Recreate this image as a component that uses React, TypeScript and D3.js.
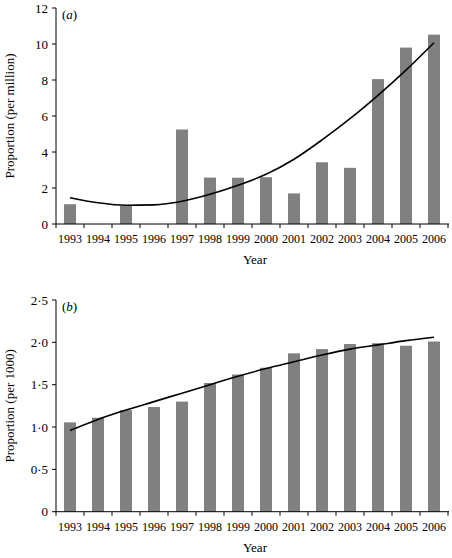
import React from "react";
import * as d3 from "d3";

const years = ["1993","1994","1995","1996","1997","1998","1999","2000","2001","2002","2003","2004","2005","2006"];
const valuesA = [1.1, 0, 1.0, 0, 5.25, 2.58, 2.57, 2.6, 1.7, 3.43, 3.12, 8.05, 9.8, 10.52];
const trendA = [1.46, 1.18, 1.04, 1.06, 1.26, 1.65, 2.15, 2.76, 3.6, 4.67, 5.85, 7.15, 8.55, 10.07];
const valuesB = [1.055, 1.11, 1.2, 1.236, 1.3, 1.52, 1.62, 1.7, 1.87, 1.92, 1.98, 1.99, 1.96, 2.01];
const trendB = [0.96, 1.09, 1.2, 1.3, 1.4, 1.5, 1.6, 1.69, 1.77, 1.85, 1.92, 1.97, 2.02, 2.06];
const ticksA = [0, 2, 4, 6, 8, 10, 12];
const ticksB = [0, 0.5, 1.0, 1.5, 2.0, 2.5];

const FONT = "'Liberation Serif', 'Times New Roman', Times, serif";

type PanelProps = {
  top: number;
  bottom: number;
  yMax: number;
  ticks: number[];
  fmt: (v: number) => string;
  values: number[];
  trend: number[];
  label: string;
  yTitle: string;
};

function Panel({ top, bottom, yMax, ticks, fmt, values, trend, label, yTitle }: PanelProps) {
  const left = 56;
  const right = 448;
  const x = d3.scaleBand<string>().domain(years).range([left, right]).paddingInner(0.57).paddingOuter(0.285);
  const step = x.step();
  const y = d3.scaleLinear().domain([0, yMax]).range([bottom, top]);
  const line = d3
    .line<number>()
    .x((_, i) => (x(years[i]) as number) + x.bandwidth() / 2)
    .y((d) => y(d))
    .curve(d3.curveMonotoneX);
  const boundaries = d3.range(years.length + 1).map((k) => left + k * step);
  return (
    <g fontFamily={FONT}>
      {values.map((v, i) =>
        v > 0 ? (
          <rect key={years[i]} x={x(years[i])} y={y(v)} width={x.bandwidth()} height={bottom - y(v)} fill="#808080" />
        ) : null
      )}
      <path d={line(trend) || ""} fill="none" stroke="#000" strokeWidth={1.6} />
      <line x1={left} x2={left} y1={top} y2={bottom} stroke="#000" strokeWidth={1} />
      <line x1={left} x2={right + 1} y1={bottom} y2={bottom} stroke="#000" strokeWidth={1} />
      {ticks.map((t) => (
        <g key={t}>
          <line x1={left - 4} x2={left} y1={y(t)} y2={y(t)} stroke="#000" strokeWidth={1} />
          <text x={left - 8} y={y(t)} dy="0.35em" textAnchor="end" fontSize={13}>
            {fmt(t)}
          </text>
        </g>
      ))}
      {boundaries.map((b, k) => (
        <line key={k} x1={b} x2={b} y1={bottom} y2={bottom + 4} stroke="#000" strokeWidth={1} />
      ))}
      {years.map((yr) => (
        <text key={yr} x={(x(yr) as number) + x.bandwidth() / 2} y={bottom + 19} textAnchor="middle" fontSize={12}>
          {yr}
        </text>
      ))}
      <text x={(left + right) / 2 + 3} y={bottom + 40} textAnchor="middle" fontSize={13}>
        Year
      </text>
      <text
        transform={`translate(14,${(top + bottom) / 2}) rotate(-90)`}
        textAnchor="middle"
        fontSize={13}
      >
        {yTitle}
      </text>
      <text x={62} y={top + 11} fontSize={13}>
        (<tspan fontStyle="italic">{label}</tspan>)
      </text>
    </g>
  );
}

export default function App() {
  return (
    <svg
      width={452}
      height={558}
      style={{ position: "absolute", left: 0, top: 0, display: "block", background: "#fff" }}
    >
      <rect width={452} height={558} fill="#fff" />
      <Panel
        top={8}
        bottom={224}
        yMax={12}
        ticks={ticksA}
        fmt={(v) => String(v)}
        values={valuesA}
        trend={trendA}
        label="a"
        yTitle="Proportion (per million)"
      />
      <Panel
        top={300}
        bottom={511.7}
        yMax={2.5}
        ticks={ticksB}
        fmt={(v) => (v === 0 ? "0" : v.toFixed(1).replace(".", "·"))}
        values={valuesB}
        trend={trendB}
        label="b"
        yTitle="Proportion (per 1000)"
      />
    </svg>
  );
}
